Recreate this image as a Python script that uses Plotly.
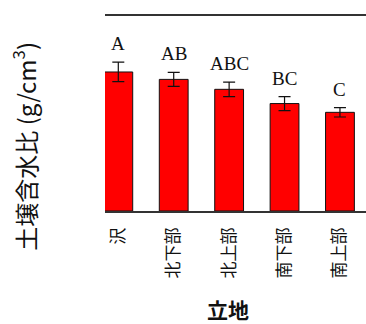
import plotly.graph_objects as go

# 立地ごとの土壌含水比（平均値・標準誤差）と多重比較の結果
sites = ["沢", "北下部", "北上部", "南下部", "南上部"]
water_ratio = [0.713, 0.675, 0.624, 0.551, 0.506]
std_err = [0.050, 0.036, 0.037, 0.036, 0.024]
groups = ["A", "AB", "ABC", "BC", "C"]

cjk = "Noto Sans CJK JP"

fig = go.Figure()
fig.add_trace(go.Bar(
    x=sites,
    y=water_ratio,
    width=0.52,
    marker=dict(color="#ff0000", line=dict(color="#111111", width=1)),
    error_y=dict(type="data", array=std_err, visible=True,
                 color="#111111", thickness=1.2, width=6),
    showlegend=False,
))

annotations = []
for s, v, e, g in zip(sites, water_ratio, std_err, groups):
    annotations.append(dict(
        x=s, y=v + e, xref="x", yref="y", text=g, showarrow=False,
        yanchor="bottom", yshift=6,
        font=dict(family="Liberation Serif", size=19, color="#111111"),
    ))

# 縦軸タイトル
annotations.append(dict(
    x=-0.31, y=0.33, xref="paper", yref="paper",
    text="土壌含水比 (g/cm<sup>3</sup>)", textangle=-90, showarrow=False,
    xanchor="center", yanchor="middle",
    font=dict(family=cjk, size=24, color="#111111"),
))
# 横軸タイトル
annotations.append(dict(
    x=0.47, y=-0.505, xref="paper", yref="paper",
    text="<b>立地</b>", showarrow=False, xanchor="center", yanchor="middle",
    font=dict(family=cjk, size=21, color="#111111"),
))

fig.update_layout(
    width=366, height=324,
    margin=dict(l=105, r=0, t=16, b=113),
    paper_bgcolor="white", plot_bgcolor="white",
    annotations=annotations,
    xaxis=dict(
        type="category", range=[-0.24, 4.47],
        showline=True, mirror=True, linecolor="#333333", linewidth=1.5,
        showgrid=False, ticks="", tickangle=-90,
        ticklabelstandoff=8,
        tickfont=dict(family=cjk, size=17, color="#111111"),
    ),
    yaxis=dict(
        range=[0, 1.0], showline=False, showgrid=False, zeroline=False,
        showticklabels=False, ticks="",
    ),
)

fig.write_html("out.html")
